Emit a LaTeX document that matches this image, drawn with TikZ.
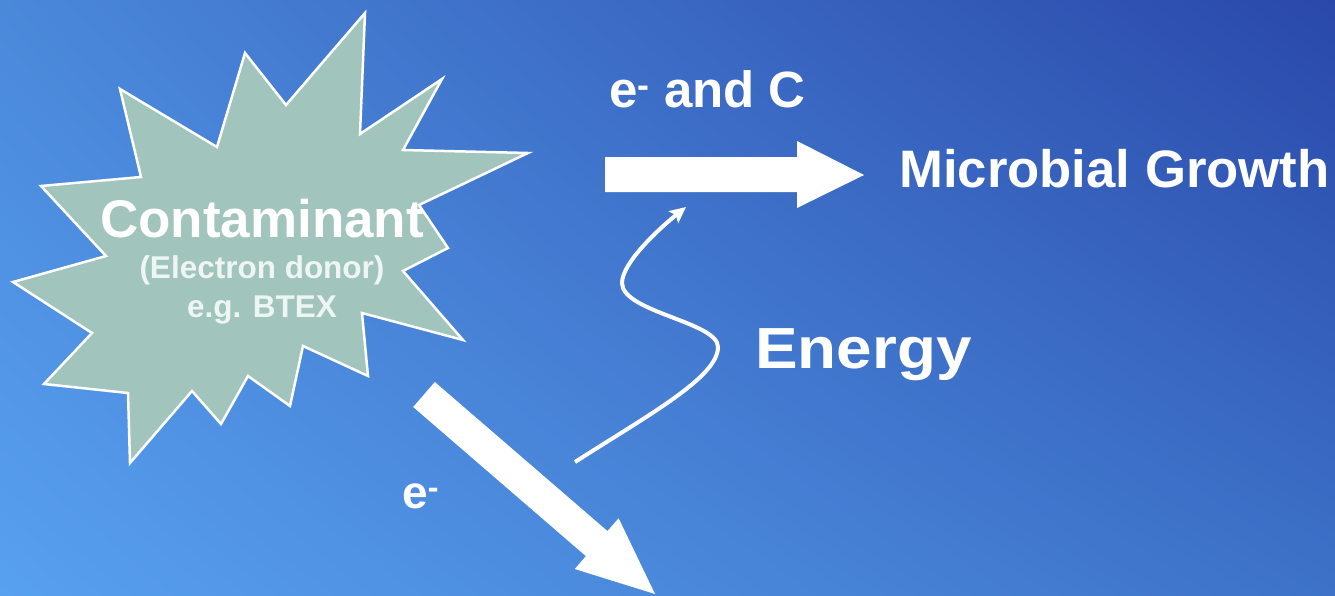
\documentclass[tikz,border=0pt]{standalone}
\usepackage{fontspec}
\usepackage{graphicx}
\setmainfont{Liberation Sans}
\usetikzlibrary{arrows.meta,shadings}
\definecolor{bgTL}{RGB}{74,136,218}
\definecolor{bgTR}{RGB}{42,72,170}
\definecolor{bgBL}{RGB}{88,160,240}
\definecolor{bgBR}{RGB}{61,114,200}
\definecolor{burst}{RGB}{161,196,188}
\definecolor{subtxt}{RGB}{238,246,243}
\newcommand{\fsz}[1]{\fontsize{#1}{#1}\selectfont}
\begin{document}
\begin{tikzpicture}[x=1pt,y=-1pt,
  lbl/.style={text=white,inner sep=0pt,anchor=base},
  blockarrow/.style={fill=white,draw=none},
  wave/.style={draw=white,line width=4pt,-{Stealth[length=16pt,width=15pt,inset=3pt]}}]
\useasboundingbox (0,0) rectangle (1335,595);
\shade[upper left=bgTL,upper right=bgTR,lower left=bgBL,lower right=bgBR] (0,0) rectangle (1335,595);
% starburst
\draw[fill=burst,draw=white,line width=2.5pt,line join=miter]
 (365,13) -- (360,134) -- (442,79) -- (403,150) -- (528,153) -- (419,205)
 -- (448,248) -- (403,271) -- (463,340) -- (362,313) -- (368,376) -- (303,346)
 -- (290,406) -- (248,376) -- (221,424) -- (192,391) -- (130,463) -- (128,393)
 -- (44,384) -- (92,333) -- (13,282) -- (106,256) -- (41,186) -- (141,177)
 -- (120,89) -- (217,147) -- (245,53) -- (286,105) -- cycle;
\node[lbl,font=\bfseries\fsz{53}] (cont) at (262,237) {Contaminant};
\node[lbl,text=subtxt,font=\bfseries\fsz{31.5}] (donor) at (262,278) {(Electron donor)};
\node[lbl,text=subtxt,font=\bfseries\fsz{31.5}] (btex) at (262,317) {e.g. BTEX};
% horizontal block arrow
\fill[blockarrow] (605,157) -- (797,157) -- (797,141) -- (864,175) -- (797,208)
 -- (797,192) -- (605,192) -- cycle;
% diagonal block arrow
\fill[blockarrow] (434.8,382) -- (607.5,531.1) -- (618.6,518.2) -- (655,594)
 -- (574.8,569) -- (585.9,556.1) -- (413.2,407) -- cycle;
% labels
\node[lbl,anchor=base west,font=\bfseries\fsz{51}] (eandc) at (609,107) {e\textsuperscript{-} and C};
\node[lbl,anchor=base west,font=\bfseries\fsz{52.7}] (growth) at (899,187) {Microbial Growth};
\node[lbl,anchor=base west,font=\bfseries\fsz{58}] (energy) at (755,368) {\scalebox{1.1}[1]{Energy}};
\node[lbl,anchor=base west,font=\bfseries\fsz{46}] (eminus) at (402,508) {e\textsuperscript{-}};
% energy wave
\coordinate (wstart) at (575,462);
\coordinate (wend) at (686,207);
\draw[wave] (wstart) .. controls (650,414) and (718,377) .. (718,347)
 .. controls (718,322) and (622,312) .. (622,283)
 .. controls (622,264) and (655,232) .. (wend);
\end{tikzpicture}
\end{document}
